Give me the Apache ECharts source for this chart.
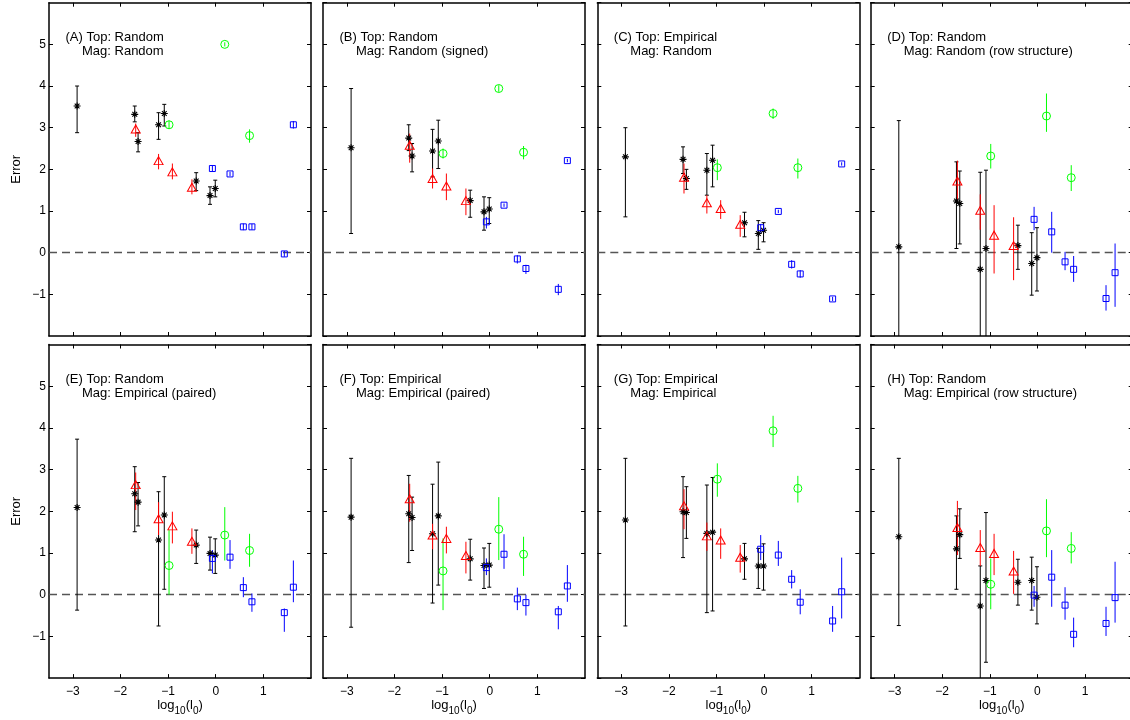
<!DOCTYPE html>
<html><head><meta charset="utf-8">
<script src="https://cdn.jsdelivr.net/npm/echarts@6/dist/echarts.min.js"></script>
<style>html,body{margin:0;padding:0;background:#fff}#c{width:1130px;height:720px}</style>
</head><body><div id="c"></div><script>
// ---------- data ----------
const xTickValues = [-3, -2, -1, 0, 1];
const yTickMin = -2, yTickMax = 6;
const xBlack = [-2.91, -1.70, -1.63, -1.20, -1.08, -0.41, -0.12, -0.01];
const xRed = [-1.68, -1.20, -0.91, -0.50];
const xGreen = [-0.98, 0.19, 0.71];
const xBlue = [-0.07, 0.30, 0.58, 0.76, 1.44, 1.63];

const panelLabels = ['(A) Top: Random', '(B) Top: Random', '(C) Top: Empirical', '(D) Top: Random',
  '(E) Top: Random', '(F) Top: Empirical', '(G) Top: Empirical', '(H) Top: Random'];
const panelMags = ['Mag: Random', 'Mag: Random (signed)', 'Mag: Random', 'Mag: Random (row structure)',
  'Mag: Empirical (paired)', 'Mag: Empirical (paired)', 'Mag: Empirical', 'Mag: Empirical (row structure)'];

// each entry: [value, lower, upper]
const A_black = [[3.52,2.88,4.00],[3.32,3.14,3.52],[2.67,2.42,2.88],[3.07,2.72,3.36],[3.34,3.04,3.56],[1.72,1.49,1.92],[1.37,1.16,1.58],[1.54,1.34,1.74]];
const A_red = [[2.97,2.78,3.10],[2.21,2.00,2.37],[1.94,1.76,2.14],[1.57,1.40,1.76]];
const A_green = [[3.07,2.97,3.17],[5.00,4.95,5.05],[2.81,2.64,2.96]];
const A_blue = [[2.02,1.95,2.09],[1.89,1.84,1.94],[0.62,0.54,0.70],[0.62,0.55,0.69],[-0.03,-0.10,0.04],[3.07,2.98,3.16]];

const B_black = [[2.52,0.46,3.94],[2.75,2.45,3.07],[2.32,1.94,2.62],[2.44,1.82,2.96],[2.68,2.02,3.18],[1.25,0.85,1.50],[0.98,0.54,1.34],[1.05,0.70,1.32]];
const B_red = [[2.58,2.16,2.86],[1.78,1.54,2.02],[1.60,1.26,1.90],[1.25,0.90,1.54]];
const B_green = [[2.38,2.26,2.50],[3.94,3.86,4.02],[2.41,2.24,2.56]];
const B_blue = [[0.74,0.58,0.86],[1.14,1.10,1.18],[-0.15,-0.26,-0.06],[-0.38,-0.51,-0.29],[-0.88,-1.02,-0.75],[2.21,2.17,2.25]];

const C_black = [[2.30,0.86,3.00],[2.24,1.90,2.54],[1.78,1.52,2.00],[1.98,1.38,2.38],[2.22,1.58,2.58],[0.72,0.38,0.97],[0.46,0.08,0.77],[0.54,0.26,0.72]];
const C_red = [[1.81,1.42,2.14],[1.20,0.94,1.38],[1.06,0.81,1.26],[0.68,0.38,0.90]];
const C_green = [[2.04,1.74,2.24],[3.34,3.21,3.46],[2.04,1.78,2.26]];
const C_blue = [[0.60,0.48,0.69],[0.99,0.95,1.03],[-0.28,-0.38,-0.18],[-0.51,-0.60,-0.42],[-1.11,-1.16,-1.06],[2.13,2.09,2.17]];

const D_black = [[0.14,-2.5,3.17],[1.24,0.10,2.18],[1.18,0.21,1.96],[-0.40,-2.5,1.93],[0.10,-2.5,1.98],[0.17,-0.40,0.66],[-0.26,-1.02,0.48],[-0.12,-0.92,0.60]];
const D_red = [[1.72,1.17,2.21],[1.02,0.55,1.40],[0.42,-0.50,1.14],[0.17,-0.66,0.85]];
const D_green = [[2.32,2.02,2.61],[3.28,2.90,3.82],[1.80,1.48,2.10]];
const D_blue = [[0.80,0.54,1.10],[0.50,0.00,0.98],[-0.22,-0.42,0.02],[-0.40,-0.70,-0.08],[-1.10,-1.39,-0.78],[-0.48,-1.30,0.22]];

const E_black = [[2.09,-0.37,3.73],[2.42,1.51,3.07],[2.22,1.65,2.69],[1.31,-0.75,2.47],[1.91,0.13,2.83],[1.19,0.75,1.55],[0.99,0.59,1.38],[0.95,0.51,1.34]];
const E_red = [[2.64,2.03,2.93],[1.82,1.43,2.22],[1.65,1.23,1.99],[1.28,0.98,1.59]];
const E_green = [[0.70,0.00,1.55],[1.43,0.82,2.10],[1.06,0.67,1.46]];
const E_blue = [[0.87,0.51,1.07],[0.90,0.62,1.31],[0.17,-0.06,0.42],[-0.17,-0.41,0.03],[-0.43,-0.89,-0.33],[0.18,-0.18,0.82]];

const F_black = [[1.86,-0.78,3.27],[1.94,0.77,2.86],[1.85,1.06,2.34],[1.46,-0.20,2.65],[1.89,0.23,3.18],[0.86,0.35,1.33],[0.70,0.15,1.12],[0.71,0.18,1.23]];
const F_red = [[2.30,1.75,2.66],[1.43,1.09,1.70],[1.35,0.99,1.63],[0.94,0.51,1.27]];
const F_green = [[0.57,-0.37,1.35],[1.57,0.83,2.34],[0.97,0.45,1.39]];
const F_blue = [[0.65,0.47,0.87],[0.97,0.62,1.45],[-0.10,-0.37,0.17],[-0.19,-0.50,0.00],[-0.41,-0.83,-0.27],[0.21,-0.17,0.71]];

const G_black = [[1.79,-0.75,3.27],[1.99,0.89,2.83],[1.97,1.35,2.59],[1.47,-0.43,2.63],[1.50,-0.39,2.81],[0.86,0.37,1.23],[0.69,0.15,1.11],[0.69,0.11,1.22]];
const G_red = [[2.13,1.57,2.53],[1.41,1.05,1.73],[1.31,0.86,1.59],[0.90,0.53,1.19]];
const G_green = [[2.77,2.35,3.15],[3.93,3.54,4.29],[2.55,2.21,2.85]];
const G_blue = [[1.09,0.83,1.43],[0.95,0.69,1.29],[0.37,0.15,0.59],[-0.18,-0.47,0.13],[-0.63,-0.89,-0.27],[0.07,-0.57,0.89]];

const H_black = [[1.39,-0.74,3.27],[1.10,0.13,1.89],[1.44,0.87,2.06],[-0.27,-2.5,0.69],[0.34,-1.62,1.97],[0.30,-0.25,0.85],[0.34,-0.37,0.90],[-0.06,-0.70,0.67]];
const H_red = [[1.61,0.95,2.25],[1.13,0.69,1.55],[0.99,0.47,1.46],[0.57,0.02,1.05]];
const H_green = [[0.25,-0.35,0.87],[1.53,0.90,2.29],[1.11,0.75,1.50]];
const H_blue = [[-0.01,-0.29,0.21],[0.42,-0.29,1.07],[-0.25,-0.60,0.18],[-0.95,-1.26,-0.55],[-0.69,-0.99,-0.29],[-0.07,-0.67,0.79]];

const panelData = [
  {black: A_black, red: A_red, green: A_green, blue: A_blue},
  {black: B_black, red: B_red, green: B_green, blue: B_blue},
  {black: C_black, red: C_red, green: C_green, blue: C_blue},
  {black: D_black, red: D_red, green: D_green, blue: D_blue},
  {black: E_black, red: E_red, green: E_green, blue: E_blue},
  {black: F_black, red: F_red, green: F_green, blue: F_blue},
  {black: G_black, red: G_red, green: G_green, blue: G_blue},
  {black: H_black, red: H_red, green: H_green, blue: H_blue}
];

// ---------- styling / layout ----------
const FONT = '"Liberation Sans", Arial, Helvetica, sans-serif';
const gridLefts = [49, 323, 597.3, 870.7];
const gridWidth = 262;
const gridTops = [2.7, 344.5];
const gridHeights = [333.3, 333.6];
const asterisk = 'path://M5,0L5,10M0,5L10,5M1.6,1.6L8.4,8.4M1.6,8.4L8.4,1.6';
const groups = [
  {key: 'black', xs: xBlack, color: '#000000', symbol: asterisk, size: 7, cap: 2, bw: 1.1},
  {key: 'red', xs: xRed, color: '#ff0000', symbol: 'triangle', size: [9, 8], cap: 0, bw: 1},
  {key: 'green', xs: xGreen, color: '#00ff00', symbol: 'circle', size: 8, cap: 0, bw: 1},
  {key: 'blue', xs: xBlue, color: '#0000ff', symbol: 'rect', size: 6, cap: 0, bw: 1}
];
const minus = v => String(v).replace('-', '\u2212');

function barRender(color, cap) {
  return function (params, api) {
    const x = api.value(0), lo = api.value(1), hi = api.value(2);
    const a = api.coord([x, lo]), b = api.coord([x, hi]);
    const st = {stroke: color, lineWidth: 1};
    const ch = [{type: 'line', shape: {x1: a[0], y1: a[1], x2: b[0], y2: b[1]}, style: st}];
    if (cap) {
      ch.push({type: 'line', shape: {x1: a[0] - cap, y1: a[1], x2: a[0] + cap, y2: a[1]}, style: st});
      ch.push({type: 'line', shape: {x1: b[0] - cap, y1: b[1], x2: b[0] + cap, y2: b[1]}, style: st});
    }
    return {type: 'group', children: ch};
  };
}

const grid = [], xAxis = [], yAxis = [], series = [], graphic = [];
for (let p = 0; p < 8; p++) {
  const row = Math.floor(p / 4), col = p % 4;
  const left = gridLefts[col], top = gridTops[row];
  grid.push({left: left, top: top, width: gridWidth, height: gridHeights[row], outerBoundsMode: 'none', containLabel: false});
  const axLine = {show: true, onZero: false, lineStyle: {color: '#000', width: 1.5}};
  const tick = {show: true, inside: true, length: 4, customValues: xTickValues, lineStyle: {color: '#000', width: 1}};
  const showX = row === 1, showY = col === 0;
  xAxis.push({
    gridIndex: p, type: 'value', position: 'bottom', min: -3.5, max: 2,
    axisLine: axLine, axisTick: tick, splitLine: {show: false},
    axisLabel: {show: showX, customValues: xTickValues, margin: 8, fontSize: 12, fontFamily: FONT, color: '#000',
      formatter: v => minus(v)},
    name: showX ? '{m|log}{s|10}{m|(l}{s|0}{m|)}' : '', nameLocation: 'middle', nameGap: 19,
    nameTextStyle: {fontFamily: FONT, color: '#000', fontSize: 13, rich: {
      m: {fontSize: 13, lineHeight: 13, verticalAlign: 'top', fontFamily: FONT, color: '#000'},
      s: {fontSize: 10, lineHeight: 10, verticalAlign: 'top', padding: [7.5, 0, 0, 0], fontFamily: FONT, color: '#000'}
    }}
  });
  xAxis.push({
    gridIndex: p, type: 'value', position: 'top', min: -3.5, max: 2,
    axisLine: axLine, axisTick: tick, splitLine: {show: false}, axisLabel: {show: false}
  });
  const ytick = {show: true, inside: true, length: 4, lineStyle: {color: '#000', width: 1}};
  yAxis.push({
    gridIndex: p, type: 'value', position: 'left', min: yTickMin, max: yTickMax, interval: 1,
    axisLine: axLine, axisTick: ytick, splitLine: {show: false},
    axisLabel: {show: showY, margin: 3, fontSize: 12, fontFamily: FONT, color: '#000',
      showMinLabel: false, showMaxLabel: false, formatter: v => minus(v)},
    name: showY ? 'Error' : '', nameLocation: 'middle', nameGap: 26,
    nameTextStyle: {fontFamily: FONT, color: '#000', fontSize: 13}
  });
  yAxis.push({
    gridIndex: p, type: 'value', position: 'right', min: yTickMin, max: yTickMax, interval: 1,
    axisLine: axLine, axisTick: ytick, splitLine: {show: false}, axisLabel: {show: false}
  });
  const xi = 2 * p, yi = 2 * p;
  groups.forEach(g => {
    const vals = panelData[p][g.key];
    series.push({
      type: 'custom', xAxisIndex: xi, yAxisIndex: yi, clip: true, silent: true,
      renderItem: barRender(g.color, g.cap),
      encode: {x: 0, y: [1, 2]},
      data: g.xs.map((x, i) => [x, vals[i][1], vals[i][2]]),
      z: 2
    });
  });
  groups.forEach((g, gi) => {
    const vals = panelData[p][g.key];
    const s = {
      type: 'scatter', xAxisIndex: xi, yAxisIndex: yi, silent: true,
      symbol: g.symbol, symbolSize: g.size,
      itemStyle: {color: 'rgba(0,0,0,0)', borderColor: g.color, borderWidth: g.bw, opacity: 1},
      data: g.xs.map((x, i) => [x, vals[i][0]]),
      z: 3
    };
    if (gi === 0) {
      s.markLine = {silent: true, symbol: ['none', 'none'], label: {show: false},
        lineStyle: {type: [8, 5], color: '#555', width: 1.3}, data: [{yAxis: 0}], animation: false, z: 1};
    }
    series.push(s);
  });
  graphic.push({type: 'text', x: left + 16.5, y: top + 34.7, silent: true,
    style: {text: panelLabels[p], fontSize: 13, fontFamily: FONT, fill: '#000', align: 'left', verticalAlign: 'middle'}});
  graphic.push({type: 'text', x: left + 33, y: top + 49, silent: true,
    style: {text: panelMags[p], fontSize: 13, fontFamily: FONT, fill: '#000', align: 'left', verticalAlign: 'middle'}});
}

const chart = echarts.init(document.getElementById('c'), null, {renderer: 'canvas'});
chart.setOption({animation: false, backgroundColor: '#fff', grid, xAxis, yAxis, series, graphic});
</script></body></html>
